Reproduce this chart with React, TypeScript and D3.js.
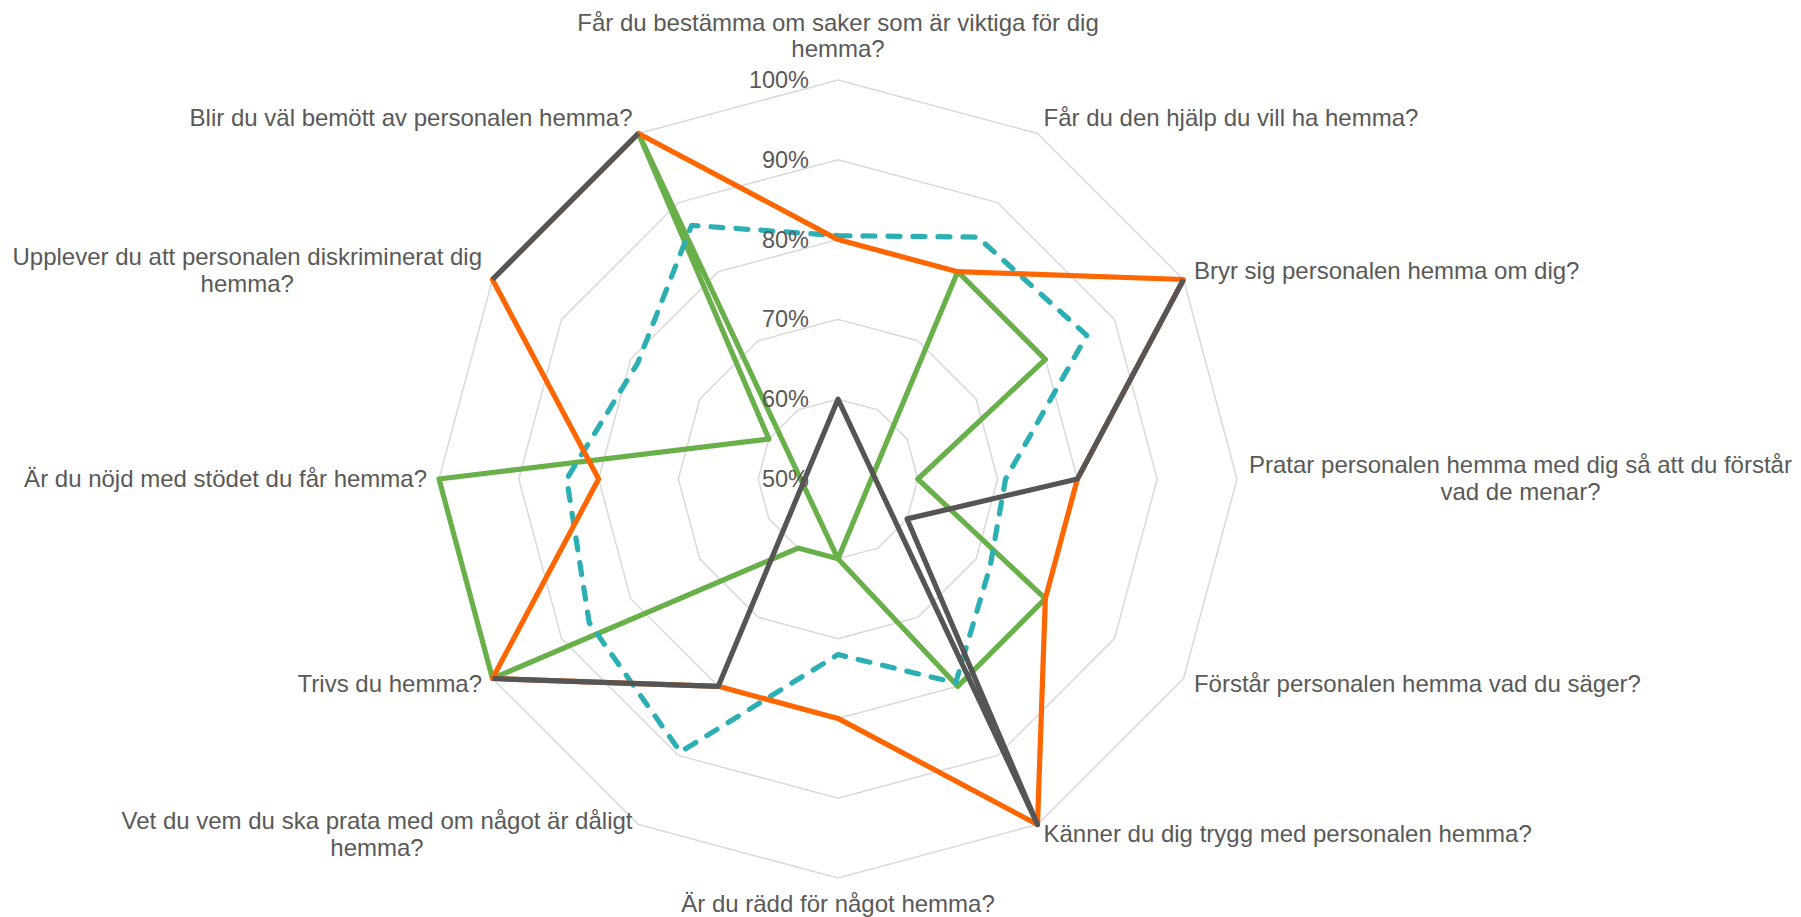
import React, { useRef, useEffect } from 'react';
import * as d3 from 'd3';

// axis questions, clockwise from the top (\n = line break as in the original)
const categories = [
  'Får du bestämma om saker som är viktiga för dig\nhemma?',
  'Får du den hjälp du vill ha hemma?',
  'Bryr sig personalen hemma om dig?',
  'Pratar personalen hemma med dig så att du förstår\nvad de menar?',
  'Förstår personalen hemma vad du säger?',
  'Känner du dig trygg med personalen hemma?',
  'Är du rädd för något hemma?',
  'Vet du vem du ska prata med om något är dåligt\nhemma?',
  'Trivs du hemma?',
  'Är du nöjd med stödet du får hemma?',
  'Upplever du att personalen diskriminerat dig\nhemma?',
  'Blir du väl bemött av personalen hemma?',
];

const ticks = [0.5, 0.6, 0.7, 0.8, 0.9, 1.0];

// values (null = no answer, gap in line)
const greenValues = [0.4, 0.8, 0.8, 0.6, 0.8, 0.8, 0.6, 0.6, 1, 1, 0.6, 1];
const tealValues = [0.805, 0.85, 0.86, 0.71, 0.72, 0.795, 0.72, 0.895, 0.86, 0.84, 0.79, 0.867];
const orangeValues = [0.8, 0.8, 1, 0.8, 0.8, 1, 0.8, 0.8, 1, 0.8, 1, 1];
const grayValues = [null, null, 1, 0.8, 0.6, 1, 0.4, 0.8, 1, null, 1, 1];

const series = [
  { values: greenValues, color: '#6AB04A', dash: null },
  { values: tealValues, color: '#2CAFB3', dash: '12 13' },
  { values: orangeValues, color: '#FF6600', dash: null },
  { values: grayValues, color: '#555555', dash: null },
];

const App = () => {
  const ref = useRef(null);

  useEffect(() => {
    const svg = d3.select(ref.current);
    svg.selectAll('*').remove();

    const width = 1801;
    const height = 917;
    const cx = 838;
    const cy = 479;
    const R = 399;
    const font = "'Liberation Sans', Arial, sans-serif";
    const textColor = '#595959';

    svg.attr('width', width).attr('height', height);
    svg.append('rect').attr('width', width).attr('height', height).attr('fill', '#fff');

    const angle = d3.scaleLinear().domain([0, categories.length]).range([0, 2 * Math.PI]);
    const r = d3.scaleLinear().domain([0.5, 1]).range([0, R]);

    const g = svg.append('g').attr('transform', `translate(${cx},${cy})`);

    // grid polygons
    const ring = d3
      .lineRadial()
      .angle((d) => d.a)
      .radius((d) => d.r)
      .curve(d3.curveLinearClosed);

    ticks.slice(1).forEach((t) => {
      g.append('path')
        .attr('d', ring(categories.map((c, i) => ({ a: angle(i), r: r(t) }))))
        .attr('fill', 'none')
        .attr('stroke', '#D9D9D9')
        .attr('stroke-width', 1.5);
    });

    // series
    const line = d3
      .lineRadial()
      .angle((d) => d.a)
      .radius((d) => r(d.v))
      .defined((d) => d.v != null);

    series.forEach((s) => {
      const pts = s.values.map((v, i) => ({ a: angle(i), v }));
      pts.push({ a: angle(categories.length), v: s.values[0] });
      g.append('path')
        .attr('d', line(pts))
        .attr('fill', 'none')
        .attr('stroke', s.color)
        .attr('stroke-width', 5.2)
        .attr('stroke-linejoin', 'round')
        .attr('stroke-linecap', s.dash ? 'round' : 'butt')
        .attr('stroke-dasharray', s.dash);
    });

    // tick labels
    ticks.forEach((t) => {
      g.append('text')
        .attr('x', -29)
        .attr('y', -r(t))
        .attr('text-anchor', 'end')
        .attr('dominant-baseline', 'central')
        .attr('font-family', font)
        .attr('font-size', 23.5)
        .attr('fill', textColor)
        .text(d3.format('.0%')(t));
    });

    // category labels
    const gap = 12;
    const lh = 26.4;
    categories.forEach((c, i) => {
      const a = angle(i);
      const dx = Math.sin(a);
      const dy = -Math.cos(a);
      const px = (R + gap) * dx;
      const py = (R + gap) * dy;
      const lines = c.split('\n');
      const lg = g.append('g');
      const text = lg
        .append('text')
        .attr('text-anchor', 'middle')
        .attr('font-family', font)
        .attr('font-size', 24)
        .attr('fill', textColor);
      const blockH = lines.length * lh;
      lines.forEach((l, k) => {
        text
          .append('tspan')
          .attr('x', 0)
          .attr('y', -blockH / 2 + lh / 2 + k * lh)
          .attr('dominant-baseline', 'central')
          .text(l);
      });
      let w = 0;
      text.selectAll('tspan').each(function () {
        w = Math.max(w, this.getComputedTextLength());
      });
      let x = px;
      let y = py;
      if (Math.abs(dx) < 0.01) {
        y = dy < 0 ? py - blockH / 2 - 6 : py + blockH / 2;
      } else {
        x = dx > 0 ? px + w / 2 : px - w / 2;
        y = py - 1 + 5 * Math.min(dy, 0);
      }
      lg.attr('transform', `translate(${x},${y})`);
    });
  }, []);

  return <svg ref={ref} style={{ position: 'absolute', left: 0, top: 0 }}></svg>;
};

export default App;
